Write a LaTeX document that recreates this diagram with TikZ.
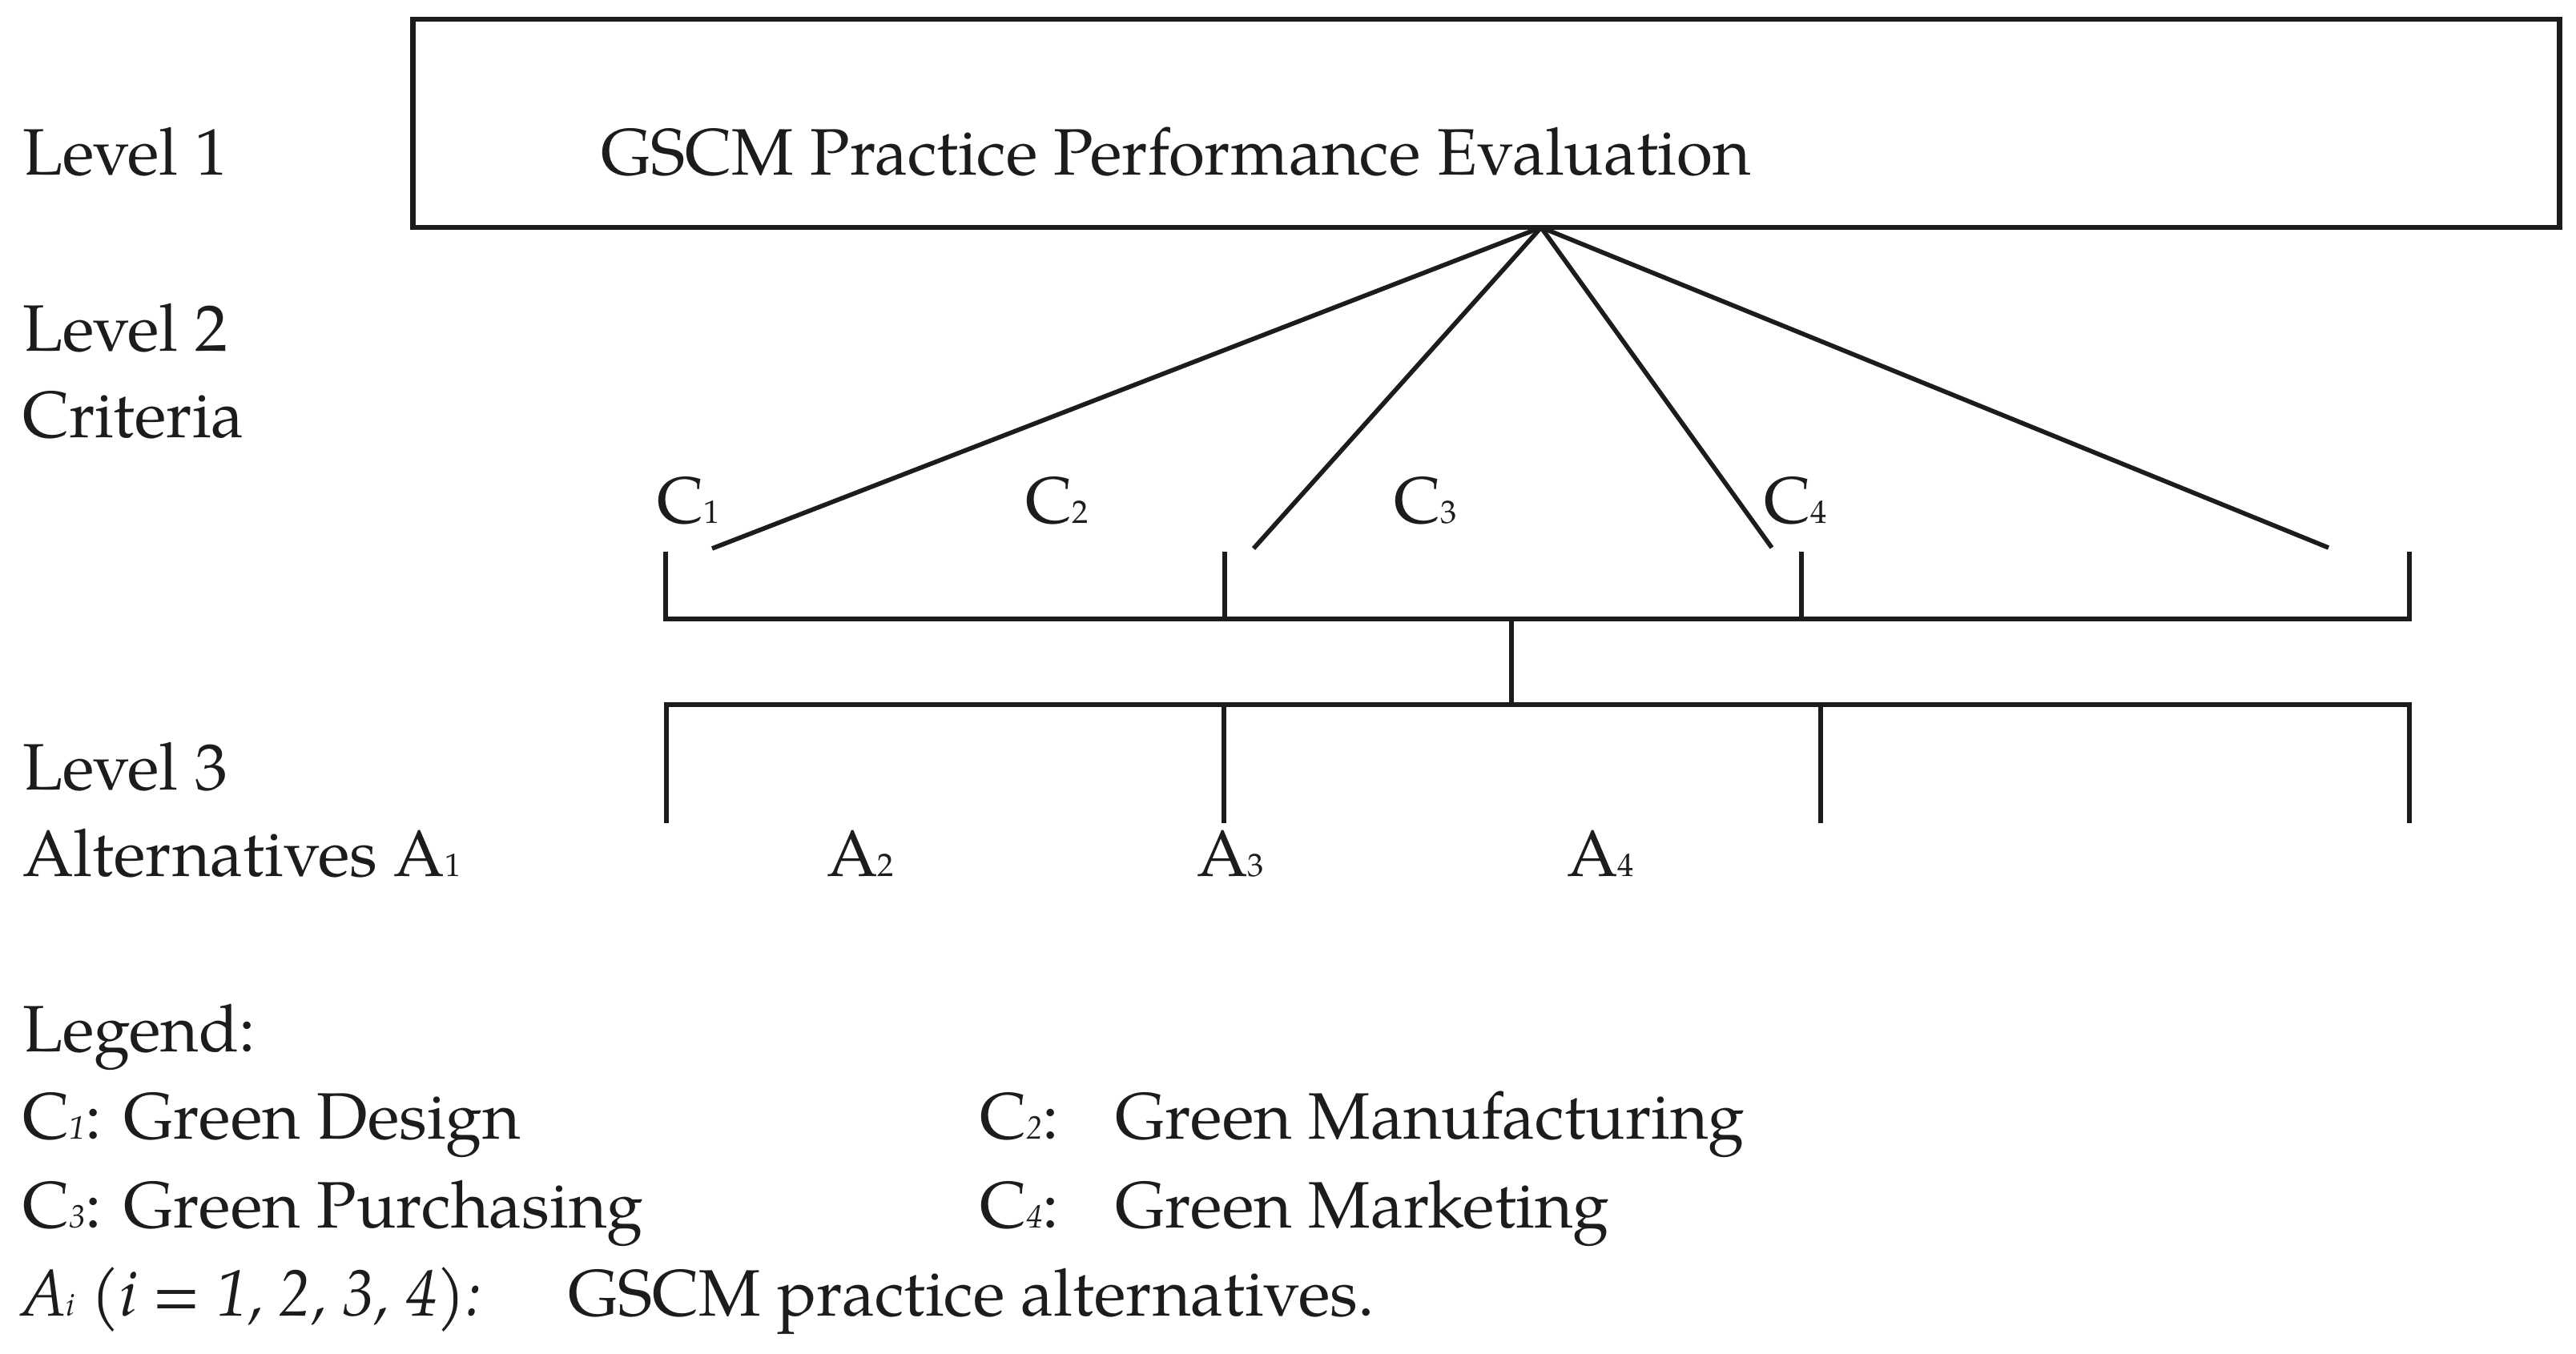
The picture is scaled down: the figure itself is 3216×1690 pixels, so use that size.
\documentclass[tikz,border=0pt]{standalone}
\usepackage{fontspec}
\setmainfont{TeX Gyre Pagella}
\usepackage{xcolor}
\usepackage{graphicx}
\definecolor{ink}{HTML}{1C1C1C}
\newcommand\lowidx[1]{{\fontsize{11.5pt}{12pt}\selectfont #1}}
\begin{document}
\begin{tikzpicture}[x=0.01cm,y=-0.01cm,
  every node/.style={inner sep=0pt, outer sep=0pt, text=ink, font=\fontsize{23.3pt}{28pt}\selectfont},
  lbl/.style={anchor=base west},
  goalbox/.style={draw=ink, line width=1.9pt},
  fan/.style={draw=ink, line width=1.6pt},
  brk/.style={draw=ink, line width=1.7pt},
]
\useasboundingbox (0,0) rectangle (3216,1690);

% Level 1 box
\node[goalbox, minimum width=26.79cm, minimum height=2.6cm] (goal) at (1855.5,154) {};
\node[lbl] (title) at (750,218) {GSCM Practice Performance Evaluation};

% left labels
\node[lbl] (lv1) at (28,218) {Level 1};
\node[lbl] (lv2) at (28,438) {Level 2};
\node[lbl] (crit) at (28,546) {Criteria};
\node[lbl] (lv3) at (28,986) {Level 3};
\node[lbl] (alt) at (28,1094) {Alternatives A\lowidx{1}};

% criteria labels
\node[lbl] (c1) at (820,653) {C\lowidx{1}};
\node[lbl] (c2) at (1280,653) {C\lowidx{2}};
\node[lbl] (c3) at (1740,653) {C\lowidx{3}};
\node[lbl] (c4) at (2202,653) {C\lowidx{4}};

% alternative labels
\node[lbl] (a2) at (1032,1094) {A\lowidx{2}};
\node[lbl] (a3) at (1494,1094) {A\lowidx{3}};
\node[lbl] (a4) at (1956,1094) {A\lowidx{4}};

% fan
\coordinate (apex) at (1924,284);
\coordinate (f1) at (889,685);
\coordinate (f2) at (1565,685);
\coordinate (f3) at (2212,684);
\coordinate (f4) at (2907,684);
\draw[fan] (apex) -- (f1);
\draw[fan] (apex) -- (f2);
\draw[fan] (apex) -- (f3);
\draw[fan] (apex) -- (f4);

% upper bracket
\coordinate (u1) at (831,689);
\coordinate (u2) at (1529,689);
\coordinate (u3) at (2249,689);
\coordinate (u4) at (3008,689);
\coordinate (ub1) at (831,773);
\coordinate (ub4) at (3008,773);
\draw[brk] (u1) -- (ub1) -- (ub4) -- (u4);
\draw[brk] (u2) -- (u2 |- ub1);
\draw[brk] (u3) -- (u3 |- ub1);

% middle connector
\coordinate (m1) at (1887,773);
\coordinate (m2) at (1887,880);
\draw[brk] (m1) -- (m2);

% lower bracket
\coordinate (lb1) at (832,880);
\coordinate (lb4) at (3008,880);
\coordinate (l1) at (832,1028);
\coordinate (l2) at (1528,1028);
\coordinate (l3) at (2273,1028);
\coordinate (l4) at (3008,1028);
\draw[brk] (l1) -- (lb1) -- (lb4) -- (l4);
\draw[brk] (l2) -- (l2 |- lb1);
\draw[brk] (l3) -- (l3 |- lb1);

% legend
\node[lbl] (leg) at (28,1313) {Legend:};
\node[lbl] (lc1) at (28,1422) {C\lowidx{\textit{1}}: Green Design};
\node[lbl] (lc3) at (28,1533) {C\lowidx{\textit{3}}: Green Purchasing};
\node[lbl] (lai) at (26,1643) {\scalebox{0.96}[1]{\textit{A\lowidx{i} (i = 1, 2, 3, 4):}}};
\node[lbl] (lait) at (709,1643) {GSCM practice alternatives.};
\node[lbl] (lc2) at (1223,1422) {C\lowidx{\textit{2}}:};
\node[lbl] (lc2t) at (1392,1422) {Green Manufacturing};
\node[lbl] (lc4) at (1223,1533) {C\lowidx{\textit{4}}:};
\node[lbl] (lc4t) at (1392,1533) {Green Marketing};
\end{tikzpicture}
\end{document}
